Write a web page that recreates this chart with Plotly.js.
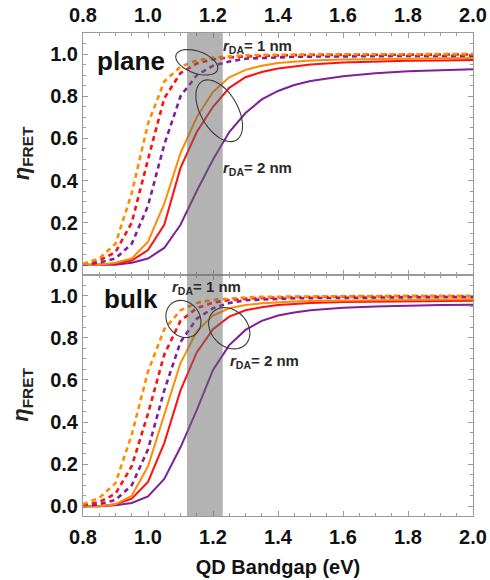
<!DOCTYPE html>
<html>
<head>
<meta charset="utf-8">
<script src="https://cdn.plot.ly/plotly-3.0.1.min.js"></script>
<style>
  html, body { margin: 0; padding: 0; background: #ffffff; }
  #chart { width: 490px; height: 580px; }
</style>
</head>
<body>
<div id="chart"></div>
<script>
// QD bandgap grid (eV)
const bandgap = [0.80,0.85,0.90,0.95,1.00,1.05,1.10,1.15,1.20,1.25,1.30,1.35,1.40,1.45,1.50,1.60,1.70,1.80,1.90,2.00];

// plane, rDA = 1 nm (dashed)
const planeOrange1 = [0.005,0.03,0.10,0.34,0.67,0.87,0.94,0.97,0.983,0.99,0.994,0.996,0.997,0.998,0.998,0.999,0.999,1.0,1.0,1.0];
const planeRed1    = [0.003,0.02,0.06,0.20,0.50,0.79,0.91,0.955,0.975,0.984,0.989,0.992,0.994,0.995,0.996,0.997,0.997,0.998,0.998,0.998];
const planePurple1 = [0.0,0.01,0.03,0.10,0.28,0.57,0.80,0.90,0.945,0.965,0.978,0.982,0.985,0.987,0.988,0.99,0.99,0.991,0.991,0.992];
// plane, rDA = 2 nm (solid)
const planeOrange2 = [0.0,0.0,0.01,0.03,0.11,0.29,0.53,0.70,0.82,0.89,0.925,0.945,0.958,0.965,0.969,0.974,0.977,0.979,0.98,0.981];
const planeRed2    = [0.0,0.0,0.005,0.02,0.07,0.19,0.46,0.63,0.75,0.84,0.89,0.915,0.932,0.943,0.951,0.96,0.965,0.968,0.97,0.972];
const planePurple2 = [0.0,0.0,0.0,0.01,0.03,0.08,0.19,0.35,0.50,0.63,0.72,0.785,0.825,0.853,0.872,0.895,0.909,0.918,0.924,0.928];

// bulk, rDA = 1 nm (dashed)
const bulkOrange1 = [0.01,0.04,0.11,0.34,0.64,0.84,0.93,0.965,0.98,0.987,0.991,0.994,0.995,0.996,0.997,0.998,0.998,0.999,0.999,0.999];
const bulkRed1    = [0.005,0.02,0.06,0.19,0.44,0.72,0.88,0.94,0.967,0.979,0.985,0.989,0.991,0.993,0.994,0.995,0.996,0.997,0.997,0.997];
const bulkPurple1 = [0.0,0.01,0.03,0.10,0.27,0.55,0.78,0.89,0.94,0.965,0.978,0.982,0.985,0.987,0.988,0.99,0.991,0.992,0.993,0.993];
// bulk, rDA = 2 nm (solid)
const bulkOrange2 = [0.0,0.0,0.01,0.05,0.19,0.43,0.68,0.83,0.905,0.94,0.955,0.963,0.968,0.972,0.974,0.977,0.979,0.98,0.981,0.982];
const bulkRed2    = [0.0,0.0,0.01,0.036,0.116,0.30,0.55,0.73,0.84,0.90,0.93,0.945,0.955,0.961,0.965,0.969,0.971,0.973,0.974,0.975];
const bulkPurple2 = [0.0,0.0,0.005,0.016,0.047,0.13,0.28,0.456,0.647,0.765,0.837,0.88,0.905,0.92,0.93,0.942,0.948,0.952,0.955,0.956];

const xTickVals = [0.8,1.0,1.2,1.4,1.6,1.8,2.0];
const xTickText = ['0.8','1.0','1.2','1.4','1.6','1.8','2.0'];
const yTickVals = [0.0,0.2,0.4,0.6,0.8,1.0];
const yTickText = ['0.0','0.2','0.4','0.6','0.8','1.0'];
const bandRange = [1.12, 1.23];
const panelLabels = ['plane','bulk'];
const rLabel1 = '<i>r</i><sub>DA</sub>= 1 nm';
const rLabel2 = '<i>r</i><sub>DA</sub>= 2 nm';

const ORANGE = '#ff8c00', RED = '#ff1010', PURPLE = '#7f1f9c';

const W = 490, H = 580;
const M = {l: 83, r: 17, t: 33, b: 64};
const xRange = [0.8, 2.0];
const yRange = [-0.046, 1.1];
const plotW = W - M.l - M.r, plotH = H - M.t - M.b;
const xs = plotW / (xRange[1] - xRange[0]);
const ys = (plotH * 0.5) / (yRange[1] - yRange[0]);

function ellipsePath(cx, cy, a, b, thDeg) {
  const th = thDeg * Math.PI / 180;
  let d = '';
  for (let i = 0; i <= 48; i++) {
    const t = 2 * Math.PI * i / 48;
    const px = a * Math.cos(th) * Math.cos(t) - b * Math.sin(th) * Math.sin(t);
    const py = a * Math.sin(th) * Math.cos(t) + b * Math.cos(th) * Math.sin(t);
    const X = cx + px / xs, Y = cy - py / ys;
    d += (i === 0 ? 'M' : 'L') + X.toFixed(5) + ',' + Y.toFixed(5) + ' ';
  }
  return d + 'Z';
}

function tr(y, color, dashed, xa, ya) {
  return {
    x: bandgap, y: y, type: 'scatter', mode: 'lines', xaxis: xa, yaxis: ya,
    line: {color: color, width: dashed ? 2.6 : 2, dash: dashed ? '5px,4px' : 'solid'},
    hoverinfo: 'skip', showlegend: false
  };
}

const data = [
  tr(planePurple2, PURPLE, false, 'x', 'y'),
  tr(planeRed2, RED, false, 'x', 'y'),
  tr(planeOrange2, ORANGE, false, 'x', 'y'),
  tr(planePurple1, PURPLE, true, 'x', 'y'),
  tr(planeRed1, RED, true, 'x', 'y'),
  tr(planeOrange1, ORANGE, true, 'x', 'y'),
  tr(bulkPurple2, PURPLE, false, 'x2', 'y2'),
  tr(bulkRed2, RED, false, 'x2', 'y2'),
  tr(bulkOrange2, ORANGE, false, 'x2', 'y2'),
  tr(bulkPurple1, PURPLE, true, 'x2', 'y2'),
  tr(bulkRed1, RED, true, 'x2', 'y2'),
  tr(bulkOrange1, ORANGE, true, 'x2', 'y2')
];

const tickFont = {family: 'Liberation Sans, Arial, sans-serif', size: 20, color: '#111', weight: 'bold'};
const FRAME = '#9a9a9a';

function xAxis(side, anchor, extra) {
  return Object.assign({
    range: xRange, side: side, anchor: anchor, domain: [0, 1],
    tickvals: xTickVals, ticktext: xTickText,
    ticks: 'inside', ticklen: 5, tickcolor: FRAME, tickwidth: 1,
    minor: {ticks: 'inside', dtick: 0.05, ticklen: 3, tickcolor: FRAME, showgrid: false},
    showline: true, linecolor: FRAME, linewidth: 1, mirror: 'allticks',
    showgrid: false, zeroline: false, tickfont: tickFont, fixedrange: true
  }, extra || {});
}
function yAxis(domain, anchor) {
  return {
    range: yRange, domain: domain, anchor: anchor,
    tickvals: yTickVals, ticktext: yTickText,
    ticks: 'inside', ticklen: 5, tickcolor: FRAME, tickwidth: 1,
    minor: {ticks: 'inside', dtick: 0.05, ticklen: 3, tickcolor: FRAME, showgrid: false},
    showline: true, linecolor: FRAME, linewidth: 1, mirror: 'allticks',
    showgrid: false, zeroline: false, tickfont: tickFont, fixedrange: true
  };
}

const ellLine = {color: '#3a3a3a', width: 1.1};
const shapes = [
  {type: 'rect', xref: 'x', yref: 'paper', x0: bandRange[0], x1: bandRange[1], y0: 0, y1: 1,
   fillcolor: '#676767', opacity: 0.5, line: {width: 0}, layer: 'above'},
  {type: 'path', xref: 'x', yref: 'y', path: ellipsePath(1.150, 0.961, 22, 11, 20), line: ellLine, layer: 'above'},
  {type: 'path', xref: 'x', yref: 'y', path: ellipsePath(1.219, 0.731, 34, 18.5, 60), line: ellLine, layer: 'above'},
  {type: 'path', xref: 'x2', yref: 'y2', path: ellipsePath(1.109, 0.889, 19.5, 16.5, 55), line: ellLine, layer: 'above'},
  {type: 'path', xref: 'x2', yref: 'y2', path: ellipsePath(1.250, 0.845, 23, 18, 45), line: ellLine, layer: 'above'}
];

const annFont = {family: 'Liberation Sans, Arial, sans-serif', size: 15, color: '#2a2a2a', weight: 'bold'};
const bigFont = {family: 'Liberation Sans, Arial, sans-serif', size: 26, color: '#111', weight: 'bold'};
const annotations = [
  {xref: 'x', yref: 'y', x: 0.836, y: 0.965, text: panelLabels[0], showarrow: false, xanchor: 'left', yanchor: 'middle', font: bigFont},
  {xref: 'x2', yref: 'y2', x: 0.859, y: 0.985, text: panelLabels[1], showarrow: false, xanchor: 'left', yanchor: 'middle', font: bigFont},
  {xref: 'x', yref: 'y', x: 1.225, y: 1.035, text: rLabel1, showarrow: false, xanchor: 'left', yanchor: 'middle', font: annFont},
  {xref: 'x', yref: 'y', x: 1.226, y: 0.455, text: rLabel2, showarrow: false, xanchor: 'left', yanchor: 'middle', font: annFont},
  {xref: 'x2', yref: 'y2', x: 1.069, y: 1.038, text: rLabel1, showarrow: false, xanchor: 'left', yanchor: 'middle', font: annFont},
  {xref: 'x2', yref: 'y2', x: 1.247, y: 0.688, text: rLabel2, showarrow: false, xanchor: 'left', yanchor: 'middle', font: annFont},
  {xref: 'paper', yref: 'paper', x: -0.155, y: 0.75, text: '<i>η</i><sub>FRET</sub>', textangle: -90, showarrow: false,
   xanchor: 'center', yanchor: 'middle', font: {family: 'Liberation Sans, Arial, sans-serif', size: 22, color: '#222', weight: 'bold'}},
  {xref: 'paper', yref: 'paper', x: -0.155, y: 0.25, text: '<i>η</i><sub>FRET</sub>', textangle: -90, showarrow: false,
   xanchor: 'center', yanchor: 'middle', font: {family: 'Liberation Sans, Arial, sans-serif', size: 22, color: '#222', weight: 'bold'}}
];

const layout = {
  width: W, height: H, margin: M,
  paper_bgcolor: '#ffffff', plot_bgcolor: '#ffffff',
  showlegend: false,
  xaxis: xAxis('top', 'y', {ticklabelstandoff: 2}),
  xaxis2: xAxis('bottom', 'y2', {matches: 'x', ticklabelstandoff: 3,
    title: {text: 'QD Bandgap (eV)', font: {family: 'Liberation Sans, Arial, sans-serif', size: 20, color: '#111', weight: 'bold'}, standoff: 12}}),
  yaxis: yAxis([0.5, 1], 'x'),
  yaxis2: yAxis([0, 0.5], 'x2'),
  shapes: shapes,
  annotations: annotations
};

Plotly.newPlot('chart', data, layout, {staticPlot: true, displayModeBar: false});
</script>
</body>
</html>
